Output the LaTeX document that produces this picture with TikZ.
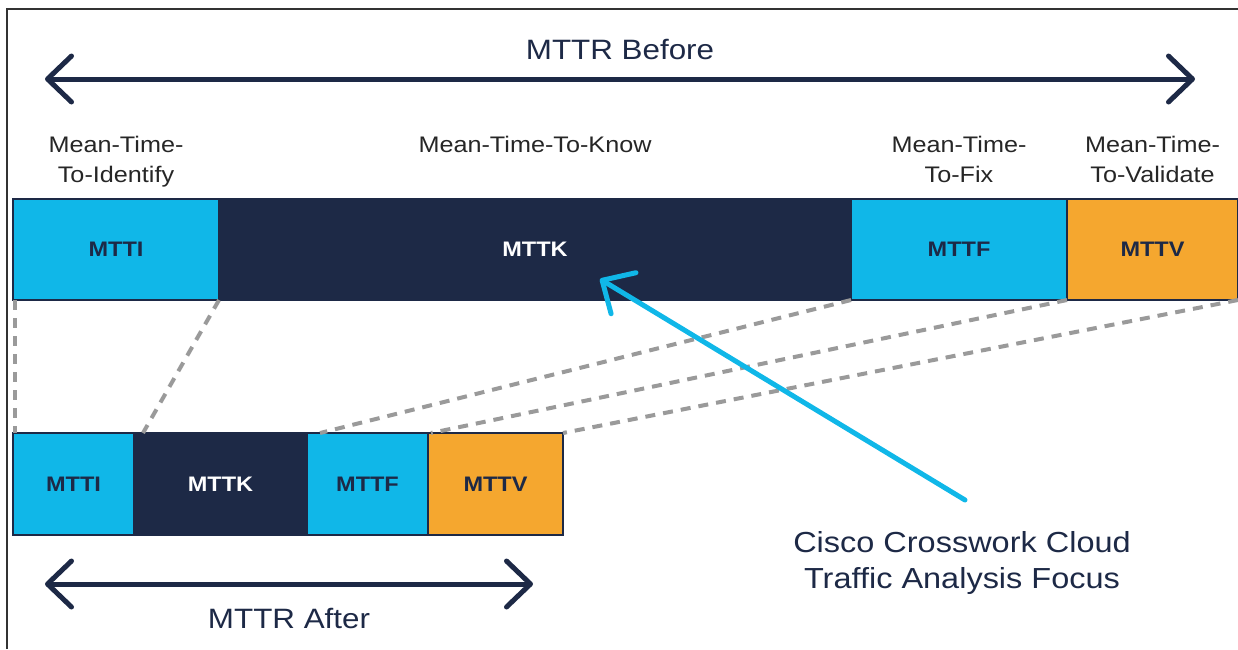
\documentclass[tikz,border=0pt]{standalone}
\usepackage{fontspec}
\setmainfont{Liberation Sans}[FakeStretch=1.12]
\usepackage{tikz}
\usetikzlibrary{calc}
\usetikzlibrary{arrows.meta}
\usetikzlibrary{positioning}

\definecolor{ciscoblue}{HTML}{10B7E8}
\definecolor{cisconavy}{HTML}{1D2946}
\definecolor{ciscoorange}{HTML}{F5A72F}
\definecolor{dashgray}{HTML}{9A9A9A}

\tikzset{
	seg/.style={draw=cisconavy, line width=1.5pt, outer sep=0pt, inner sep=0pt, minimum height=101pt, text=cisconavy, font=\fontsize{21}{25}\selectfont\bfseries},
	lbl/.style={align=center, anchor=north, inner sep=0pt, text=black!85, font=\fontsize{22.5}{30}\selectfont},
	mttr/.style={inner sep=0pt, text=cisconavy, font=\fontsize{28}{34}\selectfont},
	span/.style={cisconavy, line width=5pt, {Straight Barb[length=24pt, width=46pt, round]}-{Straight Barb[length=24pt, width=46pt, round]}},
	link/.style={dashgray, line width=4pt, dash pattern=on 10pt off 8pt},
	focusarrow/.style={ciscoblue, line width=5pt, line cap=round, -{Straight Barb[length=25pt, width=48pt, round]}},
}

\begin{document}
\begin{tikzpicture}[x=1pt, y=-1pt]
	
	\useasboundingbox (0,0) rectangle (1238,649);
	\draw[line width=2pt, black!80] (7,649) |- (1238,9);
	
	% before
	\node[seg, fill=ciscoblue, minimum width=206] (ti1) at (116,249.5) {MTTI};
	\node[seg, fill=cisconavy, text=white, minimum width=632, right=0pt of ti1] (tk1) {MTTK};
	\node[seg, fill=ciscoblue, minimum width=216, right=0pt of tk1] (tf1) {MTTF};
	\node[seg, fill=ciscoorange, minimum width=171, right=0pt of tf1] (tv1) {MTTV};
	
	\node[lbl] (lti) at ([yshift=63pt]ti1.north) {Mean-Time-\\To-Identify};
	\node[lbl] (ltk) at ([yshift=63pt]tk1.north) {Mean-Time-To-Know};
	\node[lbl] (ltf) at ([yshift=63pt]tf1.north) {Mean-Time-\\To-Fix};
	\node[lbl] (ltv) at ([yshift=63pt]tv1.north) {Mean-Time-\\To-Validate};
	
	% after
	\node[seg, fill=ciscoblue, minimum width=121, minimum height=102] (ti2) at (73.5,484) {MTTI};
	\node[seg, fill=cisconavy, text=white, minimum width=173, minimum height=102, right=0pt of ti2] (tk2) {MTTK};
	\node[seg, fill=ciscoblue, minimum width=121, minimum height=102, right=0pt of tk2] (tf2) {MTTF};
	\node[seg, fill=ciscoorange, minimum width=135, minimum height=102, right=0pt of tf2] (tv2) {MTTV};
	
	\draw[link] ([xshift=2pt]ti1.south west) -- ([xshift=2pt]ti2.north west);
	\draw[link] (ti1.south east) -- ([xshift=9pt]tk2.north west);
	\draw[link] (tk1.south east) -- ([xshift=13pt]tf2.north west);
	\draw[link] (tf1.south east) -- ([xshift=3pt]tv2.north west);
	\draw[link] (tv1.south east) -- (tv2.north east);
	
	\coordinate (bl) at (45,79);
	\coordinate (br) at (1195,79);
	\draw[span] (bl) -- node[mttr, above=17pt] (before) {MTTR Before} (br);
	
	\coordinate (al) at (45,584);
	\coordinate (ar) at (533,584);
	\draw[span] (al) -- node[mttr, below=22pt] (after) {MTTR After} (ar);
	
	\node[align=center, anchor=north, inner sep=0pt, text=cisconavy, font=\fontsize{29}{36}\selectfont] (focus) at (962,531) {Cisco Crosswork Cloud\\Traffic Analysis Focus};
	\coordinate (tip) at (600,279);
	\draw[focusarrow] ([shift={(3,-31)}]focus.north) -- (tip);
	
\end{tikzpicture}
\end{document}
